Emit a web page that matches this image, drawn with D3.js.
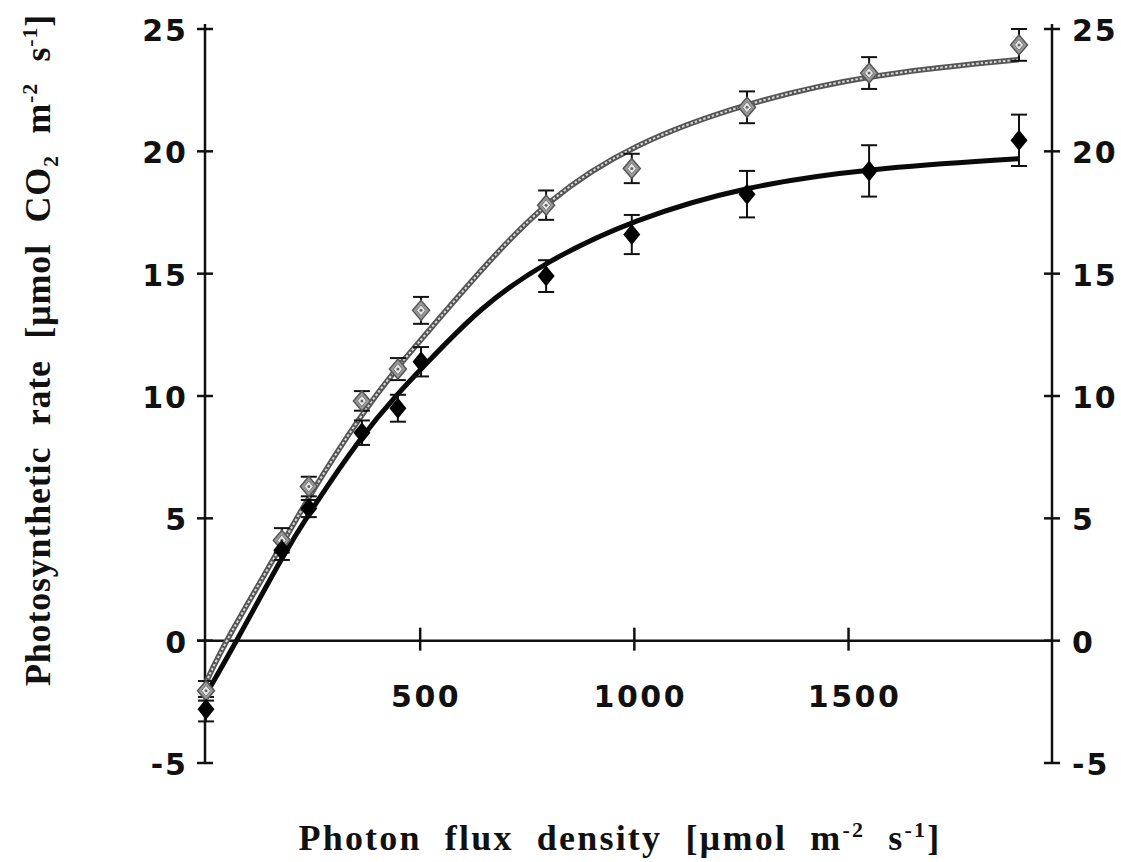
<!DOCTYPE html>
<html>
<head>
<meta charset="utf-8">
<script src="https://cdn.jsdelivr.net/npm/d3@7"></script>
<style>
  html, body { margin: 0; padding: 0; background: #fff; }
  svg { display: block; }
</style>
</head>
<body>
<div id="chart"></div>
<script>
// measured points (PFD, rate, error)
const pfd = [0, 177, 240, 364, 448, 502, 794, 994, 1263, 1548, 1898];
const blackVals = [-2.8, 3.7, 5.4, 8.5, 9.5, 11.4, 14.9, 16.6, 18.25, 19.2, 20.45];
const blackErr = [0.5, 0.4, 0.35, 0.5, 0.55, 0.6, 0.65, 0.8, 0.95, 1.05, 1.05];
const greyVals = [-2.05, 4.1, 6.3, 9.8, 11.1, 13.5, 17.8, 19.3, 21.8, 23.2, 24.35];
const greyErr = [0.4, 0.5, 0.4, 0.4, 0.45, 0.55, 0.6, 0.6, 0.65, 0.65, 0.65];

// fitted curves
const blackCurveX = [0, 72, 177, 240, 364, 448, 502, 644, 794, 994, 1263, 1548, 1898];
const blackCurve = [-2.2, 0, 3.4, 5.2, 8.4, 10.1, 11.1, 13.7, 15.5, 17.2, 18.6, 19.3, 19.7];
const greyCurveX = [0, 46, 177, 240, 364, 448, 502, 644, 794, 994, 1263, 1548, 1898];
const greyCurve = [-1.7, 0, 3.9, 5.9, 9.3, 11.2, 12.3, 15.2, 18.0, 20.3, 22.0, 23.15, 23.75];

const xTicks = [500, 1000, 1500];
const yTicks = [-5, 0, 5, 10, 15, 20, 25];

const width = 1121, height = 862;

const svg = d3.select("#chart").append("svg")
    .attr("width", width)
    .attr("height", height)
    .style("background", "#fff");

const x = d3.scaleLinear().domain([0, 1975]).range([206, 1052]);
const y = d3.scaleLinear().domain([-5, 25]).range([763, 29]);

const axisColor = "#111";
const tickFont = "'DejaVu Sans', sans-serif";

// left + right axes
const leftX = 205, rightX = x.range()[1];
[leftX, rightX].forEach(ax => {
    const g = svg.append("g")
        .attr("transform", `translate(${ax},0)`);
    g.append("line")
        .attr("y1", y(25) - 5).attr("y2", y(-5))
        .attr("stroke", axisColor).attr("stroke-width", 2.5);
    g.selectAll("line.tick")
        .data(yTicks)
        .join("line")
        .attr("class", "tick")
        .attr("x1", -8).attr("x2", 8)
        .attr("y1", d => y(d)).attr("y2", d => y(d))
        .attr("stroke", axisColor).attr("stroke-width", 2.5);
});

svg.append("g").selectAll("text")
    .data(yTicks)
    .join("text")
    .attr("x", 188)
    .attr("y", d => y(d) + 12)
    .attr("text-anchor", "end")
    .style("font-family", tickFont)
    .style("font-weight", "bold")
    .style("font-size", "30px")
    .style("letter-spacing", "2px")
    .attr("fill", "#111")
    .text(d => d);

svg.append("g").selectAll("text")
    .data(yTicks)
    .join("text")
    .attr("x", rightX + 20)
    .attr("y", d => y(d) + 12)
    .attr("text-anchor", "start")
    .style("font-family", tickFont)
    .style("font-weight", "bold")
    .style("font-size", "30px")
    .style("letter-spacing", "2px")
    .attr("fill", "#111")
    .text(d => d);

// x axis at y = 0
svg.append("line")
    .attr("x1", leftX - 8).attr("x2", rightX)
    .attr("y1", y(0)).attr("y2", y(0))
    .attr("stroke", axisColor).attr("stroke-width", 2.5);

svg.append("g").selectAll("line")
    .data(xTicks)
    .join("line")
    .attr("x1", d => x(d)).attr("x2", d => x(d))
    .attr("y1", y(0) - 13).attr("y2", y(0) + 10)
    .attr("stroke", axisColor).attr("stroke-width", 2.5);

svg.append("g").selectAll("text")
    .data(xTicks)
    .join("text")
    .attr("x", d => x(d) + 6)
    .attr("y", 707)
    .attr("text-anchor", "middle")
    .style("font-family", tickFont)
    .style("font-weight", "bold")
    .style("font-size", "30px")
    .style("letter-spacing", "2.5px")
    .attr("fill", "#111")
    .text(d => d);

// curves
const line = d3.line()
    .x(d => x(d[0]))
    .y(d => y(d[1]))
    .curve(d3.curveBasis);

const greyPts = greyCurveX.map((v, i) => [v, greyCurve[i]]);
const blackPts = blackCurveX.map((v, i) => [v, blackCurve[i]]);

svg.append("path")
    .datum(greyPts)
    .attr("d", line)
    .attr("fill", "none")
    .attr("stroke", "#555")
    .attr("stroke-width", 5.5);
svg.append("path")
    .datum(greyPts)
    .attr("d", line)
    .attr("fill", "none")
    .attr("stroke", "#d8d8d8")
    .attr("stroke-width", 2)
    .attr("stroke-dasharray", "2.5 2");

svg.append("path")
    .datum(blackPts)
    .attr("d", line)
    .attr("fill", "none")
    .attr("stroke", "#0a0a0a")
    .attr("stroke-width", 5);

// error bars
function errorBars(vals, errs) {
    const g = svg.append("g")
        .attr("stroke", "#111")
        .attr("stroke-width", 2);
    const rows = pfd.map((p, i) => ({ p, v: vals[i], e: errs[i] }));
    g.selectAll("line.v").data(rows).join("line")
        .attr("x1", d => x(d.p)).attr("x2", d => x(d.p))
        .attr("y1", d => y(d.v + d.e)).attr("y2", d => y(d.v - d.e));
    g.selectAll("line.t").data(rows).join("line")
        .attr("x1", d => x(d.p) - 8).attr("x2", d => x(d.p) + 8)
        .attr("y1", d => y(d.v + d.e)).attr("y2", d => y(d.v + d.e));
    g.selectAll("line.b").data(rows).join("line")
        .attr("x1", d => x(d.p) - 8).attr("x2", d => x(d.p) + 8)
        .attr("y1", d => y(d.v - d.e)).attr("y2", d => y(d.v - d.e));
}
errorBars(greyVals, greyErr);
errorBars(blackVals, blackErr);

// diamond marker path centred on 0,0
const diamond = (w, h) => `M0,${-h}L${w},0L0,${h}L${-w},0Z`;

const greyG = svg.append("g").selectAll("g")
    .data(pfd.map((p, i) => [p, greyVals[i]]))
    .join("g")
    .attr("transform", d => `translate(${x(d[0])},${y(d[1])})`);
greyG.append("path")
    .attr("d", diamond(8.5, 10))
    .attr("fill", "#9a9a9a")
    .attr("stroke", "#555")
    .attr("stroke-width", 1.5);
greyG.append("path")
    .attr("d", diamond(4.5, 5.5))
    .attr("fill", "#e8e8e8")
    .attr("stroke", "#777")
    .attr("stroke-width", 1);
greyG.append("circle")
    .attr("r", 1.5)
    .attr("fill", "#666");

svg.append("g").selectAll("path")
    .data(pfd.map((p, i) => [p, blackVals[i]]))
    .join("path")
    .attr("transform", d => `translate(${x(d[0])},${y(d[1])})`)
    .attr("d", diamond(8.5, 10.5))
    .attr("fill", "#000");

// axis titles, word spacing stretched to the measured width
const titleFont = "'Liberation Serif', 'Times New Roman', serif";

function fitWords(sel, target, gaps) {
    const w = sel.node().getComputedTextLength();
    sel.style("word-spacing", `${Math.max(0, (target - w) / gaps)}px`);
}

const xt = svg.append("text")
    .attr("x", 620)
    .attr("y", 850)
    .attr("text-anchor", "middle")
    .style("font-family", titleFont)
    .style("font-weight", "bold")
    .style("font-size", "36px")
    .style("letter-spacing", "2.2px")
    .attr("fill", "#111");
xt.append("tspan").text("Photon flux density [µmol m");
xt.append("tspan").attr("dy", -13).style("font-size", "22px").text("-2");
xt.append("tspan").attr("dy", 13).text(" s");
xt.append("tspan").attr("dy", -13).style("font-size", "22px").text("-1");
xt.append("tspan").attr("dy", 13).text("]");
fitWords(xt, 643, 5);

const yt = svg.append("text")
    .attr("transform", "translate(50,350) rotate(-90)")
    .attr("text-anchor", "middle")
    .style("font-family", titleFont)
    .style("font-weight", "bold")
    .style("font-size", "36px")
    .style("letter-spacing", "0.8px")
    .attr("fill", "#111");
yt.append("tspan").text("Photosynthetic rate [µmol CO");
yt.append("tspan").attr("dy", 8).style("font-size", "22px").text("2");
yt.append("tspan").attr("dy", -8).text(" m");
yt.append("tspan").attr("dy", -13).style("font-size", "22px").text("-2");
yt.append("tspan").attr("dy", 13).text(" s");
yt.append("tspan").attr("dy", -13).style("font-size", "22px").text("-1");
yt.append("tspan").attr("dy", 13).text("]");
fitWords(yt, 672, 5);
</script>
</body>
</html>
